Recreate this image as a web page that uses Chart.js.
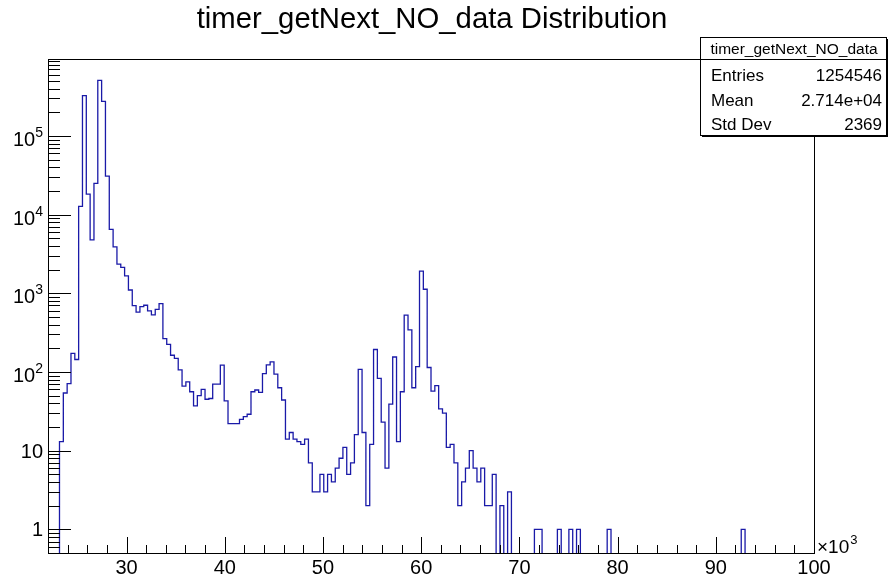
<!DOCTYPE html>
<html lang="en">
<head>
<meta charset="UTF-8">
<title>timer_getNext_NO_data Distribution</title>
<script src="https://cdn.jsdelivr.net/npm/chart.js"></script>
<style>
  html, body { margin: 0; padding: 0; background: #fff; }
  #wrap { width: 890px; height: 578px; }
</style>
</head>
<body>
<div id="wrap"><canvas id="histo" width="890" height="578"></canvas></div>
<script>
// 200 bins from 22 to 100 (x10^3)
const xLow = 22;
const xHigh = 100;
const nBins = 200;
const binCounts = [
    0, 0, 0, 13, 54, 71, 172, 144, 12700, 325000,
    18200, 4780, 25000, 508000, 275000, 30900, 6500, 3900, 2350, 2140,
    1660, 1100, 696, 576, 675, 705, 596, 530, 625, 740,
    265, 224, 163, 149, 106, 66, 75, 56, 37, 50,
    60, 45, 46, 70, 70, 122, 43, 22, 22, 22,
    25, 27, 29, 56, 59, 55, 95, 123, 134, 94,
    63, 44, 14, 17, 14, 13, 12, 14, 7, 3,
    3, 5, 3, 5, 4, 6, 8, 11, 5, 7,
    16, 108, 17, 2, 12, 193, 83, 23, 6, 39,
    155, 13, 56, 527, 343, 63, 117, 1915, 1125, 114,
    57, 67, 34, 30, 11, 12, 7, 2, 4, 6,
    10, 6, 4, 6, 2, 2, 5, 0, 2, 0,
    3, 0, 0, 0, 0, 0, 0, 1, 1, 0,
    0, 0, 0, 1, 0, 0, 1, 0, 1, 0,
    0, 0, 0, 0, 0, 0, 1, 0, 0, 0,
    0, 0, 0, 0, 0, 0, 0, 0, 0, 0,
    0, 0, 0, 0, 0, 0, 0, 0, 0, 0,
    0, 0, 0, 0, 0, 0, 0, 0, 0, 0,
    0, 1, 0, 0, 0, 0, 0, 0, 0, 0,
    0, 0, 0, 0, 0, 0, 0, 0, 0, 0
];
const xTickLabels = [30, 40, 50, 60, 70, 80, 90, 100];
const yTickDecades = [0, 1, 2, 3, 4, 5];
const chartTitle = 'timer_getNext_NO_data Distribution';
const statsTitle = 'timer_getNext_NO_data';
const statsNames = ['Entries', 'Mean', 'Std Dev'];
const statsValues = ['1254546', '2.714e+04', '2369'];

const yMin = 0.5;
const yMax = 9.5e5;
const binWidth = (xHigh - xLow) / nBins;
const FONT = '"Liberation Sans", Arial, Helvetica, sans-serif';

// empty bins are pushed below the log axis and clipped away
// point k sits on the upper edge of bin k-1 (stepped 'after')
const floorVal = yMin * 0.3;
const points = [{ x: xLow, y: floorVal }];
binCounts.forEach((c, i) => {
    points.push({ x: xLow + (i + 1) * binWidth, y: c > 0 ? c : floorVal });
});

// ROOT style frame, ticks, labels and stats box
const rootFrame = {
    id: 'rootFrame',
    afterDraw(chart) {
        const ctx = chart.ctx;
        const a = chart.chartArea;
        const xs = chart.scales.x;
        const ys = chart.scales.y;
        ctx.save();
        ctx.strokeStyle = '#000';
        ctx.fillStyle = '#000';
        ctx.lineWidth = 1;

        // frame
        ctx.strokeRect(a.left + 0.5, a.top + 0.5, a.right - a.left, a.bottom - a.top);

        // x ticks
        ctx.beginPath();
        for (let v = xLow + 2; v <= xHigh; v += 2) {
            const px = Math.round(xs.getPixelForValue(v)) + 0.5;
            const len = v % 10 === 0 ? 16 : 8;
            ctx.moveTo(px, a.bottom);
            ctx.lineTo(px, a.bottom - len);
        }
        // y ticks
        for (let d = -1; d <= 6; d++) {
            for (let k = 1; k <= 9; k++) {
                const v = k * Math.pow(10, d);
                if (v < yMin || v > yMax) continue;
                const py = Math.round(ys.getPixelForValue(v)) + 0.5;
                const len = k === 1 ? 23 : 12;
                ctx.moveTo(a.left, py);
                ctx.lineTo(a.left + len, py);
            }
        }
        ctx.stroke();

        // x labels
        ctx.font = '20px ' + FONT;
        ctx.textAlign = 'center';
        ctx.textBaseline = 'alphabetic';
        xTickLabels.forEach(v => {
            ctx.fillText(String(v), xs.getPixelForValue(v), a.bottom + 21);
        });
        ctx.textAlign = 'left';
        ctx.font = '19px ' + FONT;
        ctx.fillText('\u00d710', a.right + 3, a.bottom);
        const w10 = ctx.measureText('\u00d710').width;
        ctx.font = '13px ' + FONT;
        ctx.fillText('3', a.right + 4 + w10, a.bottom - 9);

        // y labels
        const rx = a.left - 5;
        ctx.textAlign = 'right';
        yTickDecades.forEach(d => {
            const py = ys.getPixelForValue(Math.pow(10, d));
            if (d < 2) {
                ctx.font = '20px ' + FONT;
                ctx.fillText(d === 0 ? '1' : '10', rx, py + 7);
            } else {
                ctx.font = '14px ' + FONT;
                const ew = ctx.measureText(String(d)).width;
                ctx.fillText(String(d), rx, py + 1);
                ctx.font = '20px ' + FONT;
                ctx.fillText('10', rx - ew, py + 10);
            }
        });

        // title
        ctx.font = '29.3px ' + FONT;
        ctx.textAlign = 'center';
        ctx.fillText(chartTitle, 432, 28);

        // stats box
        const bx = 700, by = 37, bw = 186, bh = 98;
        ctx.fillRect(bx + 2, by + 2, bw, bh);
        ctx.fillStyle = '#fff';
        ctx.fillRect(bx, by, bw, bh);
        ctx.fillStyle = '#000';
        ctx.strokeRect(bx + 0.5, by + 0.5, bw, bh);
        ctx.beginPath();
        ctx.moveTo(bx, a.top + 0.5);
        ctx.lineTo(bx + bw, a.top + 0.5);
        ctx.stroke();
        ctx.font = '15.5px ' + FONT;
        ctx.fillText(statsTitle, bx + bw / 2 + 1, 54);
        ctx.font = '17px ' + FONT;
        statsNames.forEach((n, i) => {
            const yb = 81 + i * 24.6;
            ctx.textAlign = 'left';
            ctx.fillText(n, bx + 11, yb);
            ctx.textAlign = 'right';
            ctx.fillText(statsValues[i], bx + bw - 4, yb);
        });
        ctx.restore();
    }
};

new Chart(document.getElementById('histo'), {
    type: 'line',
    data: {
        datasets: [{
            data: points,
            borderColor: '#1a1aa8',
            borderWidth: 1.3,
            pointRadius: 0,
            stepped: 'after',
            fill: false,
            clip: 0
        }]
    },
    options: {
        responsive: false,
        animation: false,
        devicePixelRatio: 1,
        layout: { padding: { left: 48, right: 76, top: 59, bottom: 25 } },
        scales: {
            x: { type: 'linear', min: xLow, max: xHigh, display: false },
            y: { type: 'logarithmic', min: yMin, max: yMax, display: false }
        },
        plugins: {
            legend: { display: false },
            tooltip: { enabled: false },
            title: { display: false }
        }
    },
    plugins: [rootFrame]
});
</script>
</body>
</html>
